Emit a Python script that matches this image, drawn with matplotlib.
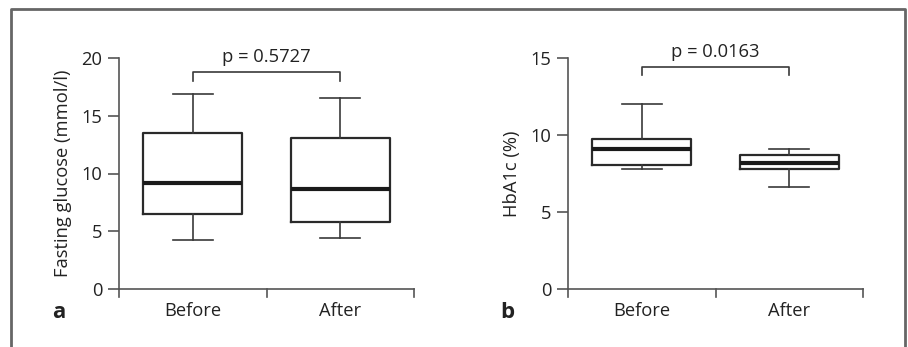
import matplotlib.pyplot as plt
from matplotlib.lines import Line2D

plt.rcParams['font.family'] = ['Open Sans', 'DejaVu Sans']

groups = ['Before', 'After']

# panel a: fasting glucose (mmol/l)
glu_whislo = [4.2, 4.4]
glu_q1 = [6.5, 5.8]
glu_med = [9.2, 8.7]
glu_q3 = [13.5, 13.1]
glu_whishi = [16.85, 16.55]

# panel b: HbA1c (%)
hba_whislo = [7.8, 6.6]
hba_q1 = [8.05, 7.8]
hba_med = [9.1, 8.17]
hba_q3 = [9.75, 8.7]
hba_whishi = [12.0, 9.12]

p_values = ['p = 0.5727', 'p = 0.0163']
ylabels = ['Fasting glucose (mmol/l)', 'HbA1c (%)']
panel_letters = ['a', 'b']

AX = '#555555'
TXT = '#222222'
FS = 13.2


def draw_panel(ax, lo, q1, med, q3, hi, ymax, yticks, bracket_y, bracket_drop, ptext, ylabel, letter):
    stats = []
    for i, name in enumerate(groups):
        stats.append(dict(label=name, whislo=lo[i], q1=q1[i], med=med[i], q3=q3[i], whishi=hi[i], fliers=[]))
    ax.bxp(stats, positions=[0.5, 1.5], widths=0.67, showfliers=False,
           boxprops=dict(color='#2a2a2a', linewidth=1.6),
           medianprops=dict(color='#1a1a1a', linewidth=3.0),
           whiskerprops=dict(color='#3a3a3a', linewidth=1.2),
           capprops=dict(color='#3a3a3a', linewidth=1.2),
           capwidths=0.27)
    ax.set_xlim(0, 2)
    ax.set_ylim(0, ymax)
    for s in ['top', 'right']:
        ax.spines[s].set_visible(False)
    for s in ['left', 'bottom']:
        ax.spines[s].set_color(AX)
        ax.spines[s].set_linewidth(1.2)
    ax.set_yticks(yticks)
    ax.set_xticks([0, 1, 2])
    ax.set_xticklabels([])
    ax.set_xticks([0.5, 1.5], minor=True)
    ax.set_xticklabels(groups, minor=True)
    ax.tick_params(axis='x', which='minor', length=0, pad=9, labelsize=FS, labelcolor=TXT)
    ax.tick_params(axis='x', which='major', length=0)
    ax.tick_params(axis='y', length=8, color=AX, width=1.2, labelsize=FS, labelcolor=TXT, pad=4)
    ax.set_ylabel(ylabel, fontsize=FS, color=TXT, labelpad=7)

    # bracket with p-value
    ax.plot([0.5, 0.5, 1.5, 1.5], [bracket_y - bracket_drop, bracket_y, bracket_y, bracket_y - bracket_drop],
            color='#3a3a3a', linewidth=1.2, clip_on=False)
    ax.annotate(ptext, xy=(1.0, bracket_y), xytext=(0, 4.5), textcoords='offset points',
                ha='center', va='bottom', fontsize=FS, color=TXT, annotation_clip=False)
    ax.text(-0.41, -0.055, letter, transform=ax.get_xaxis_transform(), ha='center', va='top',
            fontsize=16, fontweight='bold', color=TXT)


fig = plt.figure(figsize=(9.08, 3.47), dpi=100)
ax_a = fig.add_axes([119 / 908, 58 / 347, 295 / 908, 231 / 347])
ax_b = fig.add_axes([568 / 908, 58 / 347, 295 / 908, 231 / 347])

draw_panel(ax_a, glu_whislo, glu_q1, glu_med, glu_q3, glu_whishi, 20, [0, 5, 10, 15, 20],
           18.8, 0.75, p_values[0], ylabels[0], panel_letters[0])
draw_panel(ax_b, hba_whislo, hba_q1, hba_med, hba_q3, hba_whishi, 15, [0, 5, 10, 15],
           14.42, 0.55, p_values[1], ylabels[1], panel_letters[1])

# x-axis ticks at category boundaries, pointing down
for ax in [ax_a, ax_b]:
    for xv in [0, 1, 2]:
        ax.plot([xv, xv], [0, -0.035], transform=ax.get_xaxis_transform(), color=AX,
                linewidth=1.2, clip_on=False)

# outer frame (open at bottom)
fx0, fx1, fy1 = 11 / 908, 905 / 908, 1 - 9 / 347
fig.add_artist(Line2D([fx0, fx0, fx1, fx1], [-0.05, fy1, fy1, -0.05], color='#666666', linewidth=2))

fig.savefig('out.png', dpi=100)
